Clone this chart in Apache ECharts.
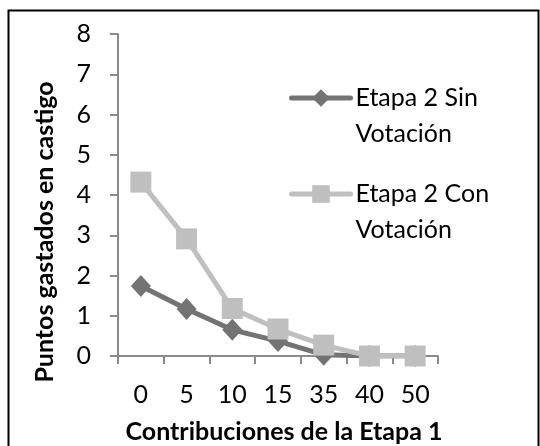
<!DOCTYPE html>
<html>
<head>
<meta charset="utf-8">
<script src="https://cdn.jsdelivr.net/npm/echarts@6/dist/echarts.min.js"></script>
<style>
  html, body { margin: 0; padding: 0; background: #fff; }
  #chart { width: 540px; height: 446px; }
</style>
</head>
<body>
<div id="chart"></div>
<script>
// Contribuciones de la Etapa 1
var categorias = ["0", "5", "10", "15", "35", "40", "50"];
// Puntos gastados en castigo
var sinVotacion = [1.74, 1.17, 0.65, 0.37, 0.03, 0, 0];
var conVotacion = [4.32, 2.91, 1.18, 0.67, 0.27, 0, 0];
var nombres = ["Etapa 2 Sin Votación", "Etapa 2 Con Votación"];

var fuente = "Lato";
var tam = 25;
var myChart = echarts.init(document.getElementById("chart"));

// separa el nombre en dos lineas, con una linea vacia arriba para alinear el icono
var partirNombre = function(name) {
  var i = name.lastIndexOf(" ");
  return "\n" + name.slice(0, i) + "\n" + name.slice(i + 1);
};

var leyenda = function(nombre, top) {
  return {
    data: [nombre],
    left: 289,
    top: top,
    padding: 0,
    itemWidth: 59,
    itemHeight: 22,
    itemGap: 5,
    formatter: partirNombre,
    lineStyle: { width: 5, cap: "round" },
    textStyle: {
      fontFamily: fuente,
      fontSize: tam,
      lineHeight: 36,
      color: "#000"
    }
  };
};

myChart.setOption({
  animation: false,
  grid: {
    left: 118,
    top: 34,
    width: 320,
    height: 322
  },
  legend: [leyenda(nombres[0], 44), leyenda(nombres[1], 140)],
  xAxis: {
    type: "category",
    data: categorias,
    boundaryGap: true,
    axisLine: { lineStyle: { color: "#8a8a8a", width: 2 } },
    axisTick: { show: true, length: 8, lineStyle: { color: "#8a8a8a", width: 2 } },
    axisLabel: {
      margin: 26,
      fontFamily: fuente,
      fontSize: tam,
      color: "#000"
    }
  },
  yAxis: {
    type: "value",
    min: 0,
    max: 8,
    interval: 1,
    splitLine: { show: false },
    axisLine: { show: true, lineStyle: { color: "#8a8a8a", width: 2 } },
    axisTick: { show: true, length: 8, lineStyle: { color: "#8a8a8a", width: 2 } },
    axisLabel: {
      margin: 27,
      fontFamily: fuente,
      fontSize: tam,
      color: "#000"
    }
  },
  graphic: [
    {
      type: "rect",
      shape: { x: 8.5, y: 10.5, width: 530, height: 460 },
      style: { fill: null, stroke: "#000", lineWidth: 2 },
      silent: true
    },
    {
      type: "text",
      x: 284,
      y: 432,
      style: {
        text: "Contribuciones de la Etapa 1",
        fontFamily: fuente,
        fontWeight: "bold",
        fontSize: tam,
        fill: "#000",
        align: "center",
        verticalAlign: "middle"
      }
    },
    {
      type: "text",
      x: 45,
      y: 232,
      rotation: Math.PI / 2,
      style: {
        text: "Puntos gastados en castigo",
        fontFamily: fuente,
        fontWeight: "bold",
        fontSize: tam,
        fill: "#000",
        align: "center",
        verticalAlign: "middle"
      }
    }
  ],
  series: [
    {
      name: nombres[0],
      type: "line",
      data: sinVotacion,
      symbol: "diamond",
      symbolSize: [20, 22],
      color: "#737373",
      lineStyle: { width: 5, color: "#737373" },
      itemStyle: { color: "#737373" },
      z: 2
    },
    {
      name: nombres[1],
      type: "line",
      data: conVotacion,
      symbol: "rect",
      symbolSize: 21,
      color: "#bfbfbf",
      lineStyle: { width: 5, color: "#bfbfbf" },
      itemStyle: { color: "#bfbfbf" },
      z: 3
    }
  ]
});
</script>
</body>
</html>
